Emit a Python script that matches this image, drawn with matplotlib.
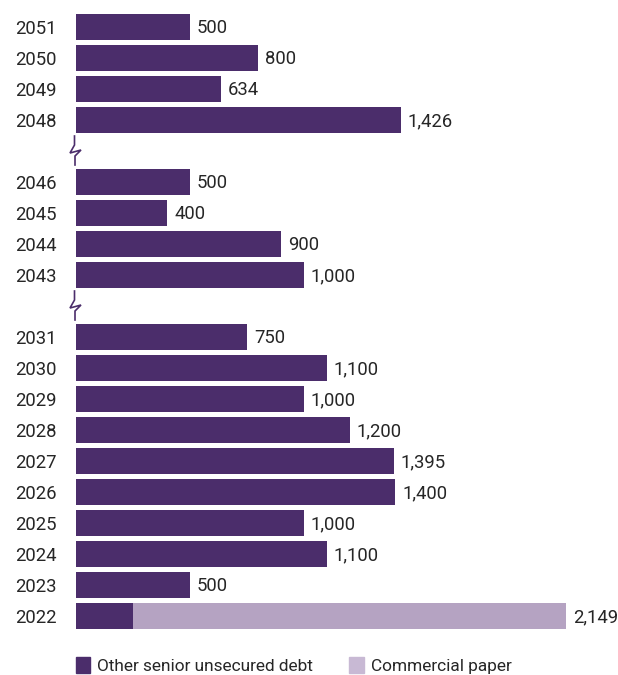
import matplotlib
matplotlib.use('Agg')
import matplotlib.pyplot as plt
import matplotlib.transforms as mtransforms
from matplotlib.patches import Patch

plt.rcParams['font.family'] = ['Roboto', 'DejaVu Sans']

# data (top to bottom), None marks an axis break
years = ['2051', '2050', '2049', '2048', None,
         '2046', '2045', '2044', '2043', None,
         '2031', '2030', '2029', '2028', '2027', '2026', '2025', '2024', '2023', '2022']
senior = [500, 800, 634, 1426, None,
          500, 400, 900, 1000, None,
          750, 1100, 1000, 1200, 1395, 1400, 1000, 1100, 500, 250]
paper = [0, 0, 0, 0, None,
         0, 0, 0, 0, None,
         0, 0, 0, 0, 0, 0, 0, 0, 0, 1899]

dark = '#4b2d6b'
light = '#b5a3c2'
light_legend = '#c8b9d4'
txt = '#262626'

fig = plt.figure(figsize=(6.18, 6.75), dpi=100)
ax = fig.add_axes([76 / 618, 43.5 / 675, 542 / 618, 620 / 675])

# zigzag break marker shape, px offsets from left edge / slot centre
zx_px = [-1.5, -1.5, -6, 5, -1, -1]
zy_px = [-15, -6, 2, -1, 5, 14]

pos = list(range(len(years)))
for i, y in enumerate(years):
    if y is None:
        tr = mtransforms.blended_transform_factory(ax.transAxes, ax.transData)
        ax.plot([x / 542 for x in zx_px], [i + v / 31 for v in zy_px], transform=tr,
                color=dark, lw=1.2, clip_on=False, solid_joinstyle='miter')
        continue
    ax.barh(i, senior[i], height=0.84, color=dark)
    if paper[i]:
        ax.barh(i, paper[i], left=senior[i], height=0.84, color=light)
    total = senior[i] + paper[i]
    ax.text(total + 30, i + 0.03, f'{total:,}', va='center', ha='left',
            fontsize=13.3, color=txt)

ax.set_yticks([p for p, y in zip(pos, years) if y is not None])
ax.set_yticklabels([y for y in years if y is not None], fontsize=13.3, color=txt)
ax.tick_params(axis='y', length=0, pad=14)
ax.set_xticks([])
ax.set_xlim(0, 2377)
ax.set_ylim(19.5, -0.5)
for s in ax.spines.values():
    s.set_visible(False)

handles = [Patch(color=dark, label='Other senior unsecured debt'),
           Patch(color=light_legend, label='Commercial paper')]
fig.legend(handles=handles, loc='lower left', bbox_to_anchor=(60 / 618, -0.021),
           ncol=2, frameon=False, fontsize=12.4, handlelength=0.85, handleheight=1.05,
           handletextpad=0.4, columnspacing=2.1, labelcolor=txt)

fig.savefig('out.png', dpi=100)
